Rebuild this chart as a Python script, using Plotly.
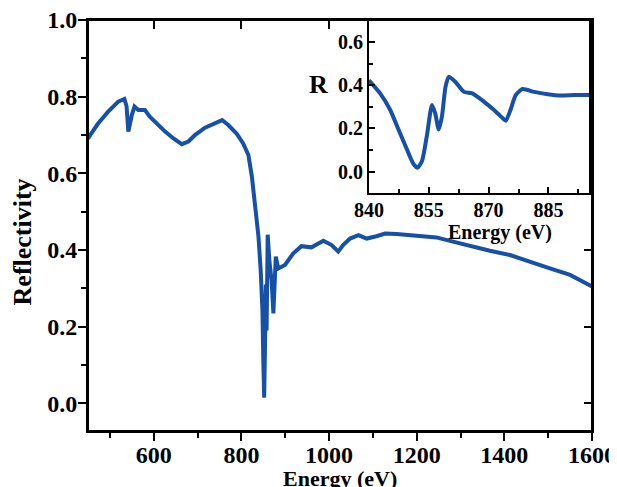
import plotly.graph_objects as go

# ---------------- data ----------------
energy_main = [450, 455, 473, 496, 519, 533, 538, 542, 550, 556, 565, 580, 591, 607, 626,
               645, 664, 679, 694, 717, 740, 756, 770, 789, 804, 816, 824, 831, 839, 844,
               848, 850, 852, 854, 856, 857.5, 860, 864, 869, 873, 876, 878.5, 884, 899.5,
               918, 937, 960, 987, 1006, 1021, 1032, 1048, 1067, 1086, 1108, 1128, 1154,
               1185, 1215, 1245, 1276, 1322, 1367, 1413, 1458, 1504, 1550, 1595, 1600]
refl_main = [0.690, 0.700, 0.730, 0.761, 0.787, 0.794, 0.775, 0.709, 0.752, 0.774, 0.765,
             0.765, 0.748, 0.730, 0.709, 0.691, 0.676, 0.683, 0.700, 0.719, 0.730, 0.739,
             0.726, 0.704, 0.678, 0.648, 0.591, 0.522, 0.435, 0.348, 0.243, 0.113, 0.015,
             0.160, 0.310, 0.190, 0.440, 0.370, 0.320, 0.235, 0.330, 0.383, 0.352, 0.361,
             0.391, 0.410, 0.407, 0.424, 0.413, 0.396, 0.413, 0.430, 0.439, 0.430, 0.436,
             0.443, 0.442, 0.439, 0.436, 0.433, 0.424, 0.410, 0.398, 0.387, 0.369, 0.352,
             0.335, 0.309, 0.305]

energy_inset = [840, 842.8, 845.3, 847.4, 849.5, 851.2, 852.2, 853.3, 854.5, 855.8, 856.6,
                857.5, 858.3, 859.2, 860, 861.7, 863.8, 865.9, 868.8, 871.3, 873.5, 874.3,
                875.5, 876.8, 878.5, 881.4, 884.8, 888.1, 891.5, 895.3]
refl_inset = [0.424, 0.363, 0.287, 0.195, 0.103, 0.034, 0.018, 0.049, 0.164, 0.309, 0.271,
              0.195, 0.256, 0.394, 0.440, 0.416, 0.370, 0.363, 0.325, 0.287, 0.248, 0.236,
              0.287, 0.355, 0.383, 0.370, 0.359, 0.353, 0.355, 0.355]

main_xticks = [600, 800, 1000, 1200, 1400, 1600]
main_yticks = [0.0, 0.2, 0.4, 0.6, 0.8, 1.0]
inset_xticks = [840, 855, 870, 885]
inset_yticks = [0.0, 0.2, 0.4, 0.6]

# ---------------- styling ----------------
LINE = "#1750A8"
FONT = "Liberation Serif, Times New Roman, serif"
tickfont = dict(family=FONT, size=24, color="black", weight="bold")
tickfont_in = dict(family=FONT, size=20, color="black", weight="bold")

fig = go.Figure()
fig.add_trace(go.Scatter(x=energy_main, y=refl_main, mode="lines",
                         line=dict(color=LINE, width=4), showlegend=False,
                         xaxis="x", yaxis="y"))
fig.add_trace(go.Scatter(x=energy_inset, y=refl_inset, mode="lines",
                         line=dict(color=LINE, width=4, shape="spline", smoothing=0.6),
                         showlegend=False, xaxis="x2", yaxis="y2"))
# empty trace to hold the mirrored (inside-tick) top/right axes
fig.add_trace(go.Scatter(x=[], y=[], showlegend=False, xaxis="x3", yaxis="y3"))

XR = [450, 1600]
YR = [-0.072, 1.0]
IXR = [840, 895.3]
IYR = [-0.1, 0.7]

common = dict(showgrid=False, zeroline=False, automargin=False,
              tickwidth=2, tickcolor="black", showline=True, linewidth=2,
              linecolor="black", ticklabeloverflow="allow")

# the page body has an 8px margin, so the figure is 8px smaller and shifted
fig.update_layout(
    width=609, height=479,
    margin=dict(l=80, r=25, t=12, b=56, autoexpand=False),
    paper_bgcolor="white", plot_bgcolor="white",
    xaxis=dict(domain=[0, 1], range=XR, anchor="y", mirror=True,
               tickvals=main_xticks, ticks="outside", ticklen=8,
               tickfont=tickfont, ticklabelstandoff=-7,
               minor=dict(dtick=100, tick0=0, ticks="outside", ticklen=5,
                          tickwidth=2, tickcolor="black", showgrid=False),
               **common),
    yaxis=dict(domain=[0, 1], range=YR, anchor="x", mirror=True,
               tickvals=main_yticks, tickformat=".1f", ticks="outside", ticklen=8,
               tickfont=tickfont, ticklabelstandoff=-4,
               minor=dict(dtick=0.1, tick0=0, ticks="outside", ticklen=5,
                          tickwidth=2, tickcolor="black", showgrid=False),
               **common),
    xaxis3=dict(overlaying="x", side="top", anchor="free", position=1.0, range=XR,
                tickvals=main_xticks, ticks="inside", ticklen=8,
                showticklabels=False, **common),
    yaxis3=dict(overlaying="y", side="right", anchor="x", range=YR,
                tickvals=main_yticks, ticks="inside", ticklen=8,
                showticklabels=False, **common),
    xaxis2=dict(domain=[0.5575, 0.995], range=IXR, anchor="y2",
                tickvals=inset_xticks, ticks="inside", ticklen=6,
                mirror=True, tickfont=tickfont_in, ticklabelstandoff=-2,
                minor=dict(dtick=7.5, tick0=840, ticks="inside", ticklen=4,
                           tickwidth=2, tickcolor="black", showgrid=False),
                **common),
    yaxis2=dict(domain=[0.579, 0.998], range=IYR, anchor="x2",
                tickvals=inset_yticks, tickformat=".1f", ticks="inside", ticklen=6,
                mirror=True, tickfont=tickfont_in,
                minor=dict(dtick=0.1, tick0=0, ticks="inside", ticklen=4,
                           tickwidth=2, tickcolor="black", showgrid=False),
                **common),
)

# frame of the main plot (drawn on top so the upper edge is always visible)
fig.add_shape(type="rect", xref="paper", yref="paper", x0=0, x1=1, y0=0, y1=1,
              line=dict(color="black", width=2), fillcolor="rgba(0,0,0,0)",
              layer="above")

fig.add_annotation(text="Reflectivity", xref="paper", yref="paper",
                   x=-0.13, y=0.46, textangle=-90, showarrow=False,
                   xanchor="center", yanchor="middle",
                   font=dict(family=FONT, size=26, color="black", weight="bold"))
fig.add_annotation(text="Energy (eV)", xref="paper", yref="paper",
                   x=0.5, y=-0.081, showarrow=False, xanchor="center", yanchor="top",
                   font=dict(family=FONT, size=22, color="black", weight="bold"))
fig.add_annotation(text="Energy (eV)", xref="paper", yref="paper",
                   x=0.8175, y=0.484, showarrow=False, xanchor="center",
                   yanchor="middle",
                   font=dict(family=FONT, size=20, color="black", weight="bold"))
fig.add_annotation(text="R", xref="paper", yref="paper",
                   x=0.458, y=0.844, showarrow=False, xanchor="center",
                   yanchor="middle",
                   font=dict(family=FONT, size=26, color="black", weight="bold"))

fig.write_html("out.html")
